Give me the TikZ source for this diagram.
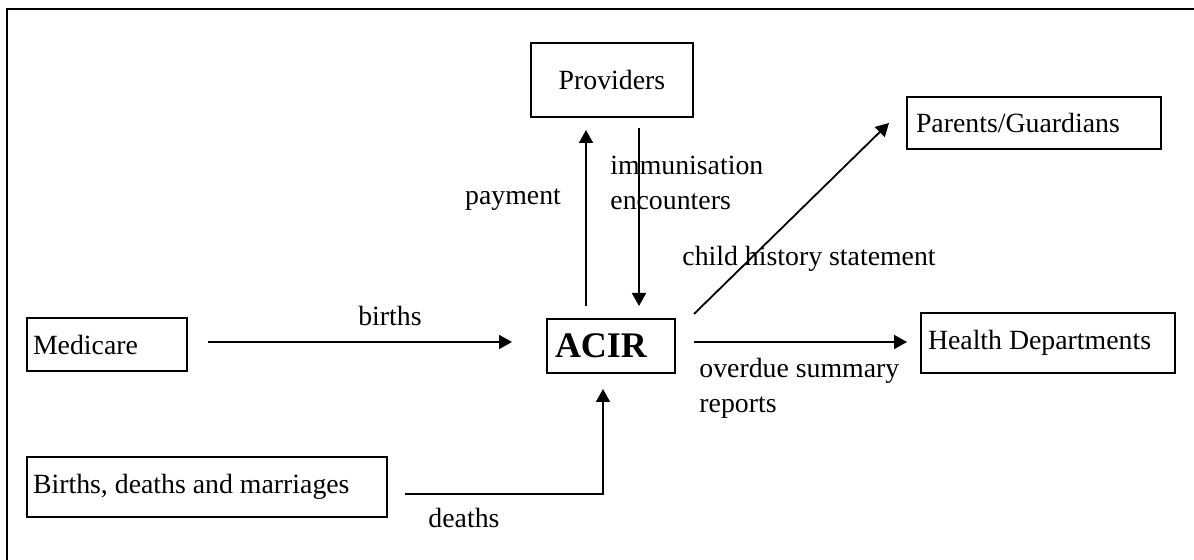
\documentclass[tikz,border=0pt]{standalone}
\usepackage{fontspec}
\setmainfont{Liberation Serif}
\usetikzlibrary{positioning,calc,arrows.meta}

\begin{document}
\begin{tikzpicture}[x=0.5pt,y=-0.5pt,
  box/.style={draw,line width=1pt,inner sep=0pt,align=flush left,font=\fontsize{13.9}{17}\selectfont},
  lbl/.style={inner sep=0pt,align=flush left,font=\fontsize{13.9}{17.5}\selectfont},
  arr/.style={line width=0.9pt,-{Triangle[length=6.5pt,width=7pt]}}]
\useasboundingbox (0,0) rectangle (1194,560);
% frame
\draw[line width=1pt] (7,560) -- (7,9) -- (1194,9);
% boxes
\node[box, minimum width=81pt, minimum height=37pt] (prov) at (612,80) {Providers};
\node[box, inner xsep=4.5pt, text width=118pt, minimum height=26pt] (par) at (1034,123) {Parents/Guardians};
\node[box, inner xsep=3.5pt, text width=120pt, minimum height=30pt] (hd) at (1048,343) {Health Departments};
\node[box, inner xsep=4pt, text width=56pt, minimum height=27pt, font=\fontsize{18}{20}\selectfont\bfseries] (acir) at (611,346) {ACIR};
\node[box, inner xsep=3pt, text width=74pt, minimum height=26.5pt] (med) at (107,344.5) {Medicare};
\node[box, inner xsep=3pt, text width=174pt, minimum height=30pt] (bdm) at (207,487) {Births, deaths and marriages};
% flows
\coordinate (payx) at (586,0);
\coordinate (immx) at (639,0);
\draw[arr] ($(acir.north -| payx)+(0,-12)$) -- ($(prov.south -| payx)+(0,12)$);
\draw[arr] ($(prov.south -| immx)+(0,10)$) -- ($(acir.north -| immx)+(0,-12)$);
\draw[arr] ($(med.east)+(20,-2.5)$) -- ($(acir.west)+(-34,-4)$);
\draw[arr] ($(acir.east)+(18,-4)$) -- ($(hd.west)+(-13,-1)$);
\draw[arr] ($(acir.north east)+(18,-4)$) -- ($(par.west)+(-17,0)$);
\draw[arr] ($(bdm.east)+(17,7)$) -| ($(acir.south)+(-8,15)$);
% labels
\node[lbl] (lbirths) at (390,316) {births};
\node[lbl] (lpay) at (513,200) {payment};
\node[lbl, anchor=west] (limm) at (610,183) {immunisation\\encounters};
\node[lbl, anchor=west] (lchild) at (682,259) {child history statement};
\node[lbl, anchor=west] (lover) at (699,388) {overdue summary\\reports};
\node[lbl] (ldeaths) at (464,518) {deaths};
\end{tikzpicture}
\end{document}
